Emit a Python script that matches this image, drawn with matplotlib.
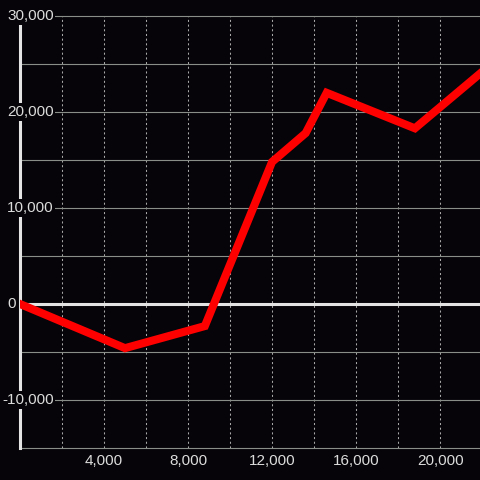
import matplotlib
matplotlib.use("Agg")
import matplotlib.pyplot as plt
import matplotlib.transforms as mtransforms

# data
xs = [0, 5000, 8800, 12000, 13600, 14600, 18800, 21900]
ys = [0, -4600, -2300, 14800, 17800, 22000, 18300, 24000]

x_grid = [2000, 4000, 6000, 8000, 10000, 12000, 14000, 16000, 18000, 20000]
x_labels = [4000, 8000, 12000, 16000, 20000]
y_grid = [-15000, -10000, -5000, 5000, 10000, 15000, 20000, 25000, 30000]
y_labels = [30000, 20000, 10000, 0, -10000]

bg = "#060408"
txt = "#dcdcdc"
plt.rcParams['font.family'] = ['Liberation Sans', 'DejaVu Sans']

fig = plt.figure(figsize=(4.8, 4.8), dpi=100, facecolor=bg)
ax = fig.add_axes((20/480, 32/480, 460/480, 432/480), facecolor=bg)
ax.set_xlim(0, 21900)
ax.set_ylim(-15000, 30000)
for s in ax.spines.values():
    s.set_visible(False)

for v in x_grid:
    ax.axvline(v, color="#a8a8a8", lw=0.75, dashes=(2, 2.5), zorder=1, clip_on=False)
for v in y_grid:
    ax.axhline(v, color="#8a8e88", lw=0.8, zorder=1, clip_on=False)

ax.axhline(0, color="#e4e4e4", lw=2.2, zorder=2)
ax.axvline(0, color="#e4e4e4", lw=2.2, zorder=2, clip_on=False)

ax.plot(xs, ys, color="#ff0000", lw=5.8, zorder=3, solid_joinstyle="miter")

ax.set_xticks(x_labels)
ax.set_xticklabels(["%s" % format(v, ",") for v in x_labels])
ax.set_yticks([])
ax.tick_params(axis="x", length=0, pad=4, labelsize=11, labelcolor=txt)

trans = mtransforms.blended_transform_factory(fig.transFigure, ax.transData)
for v in y_labels:
    x0 = 7/480 if v >= 0 else 2/480
    ax.text(x0, v, format(v, ","), transform=trans, ha="left", va="center",
            fontsize=11, color=txt, zorder=5, clip_on=False,
            bbox=dict(facecolor=bg, edgecolor="none", pad=1.2))

fig.savefig("out.png", dpi=100, facecolor=bg)
